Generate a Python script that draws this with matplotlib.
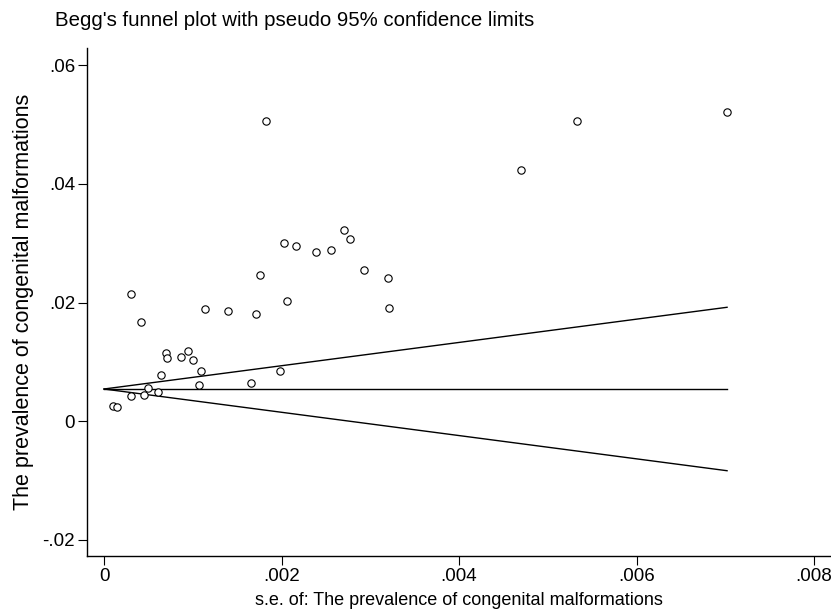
import matplotlib
matplotlib.use("Agg")
import matplotlib.pyplot as plt

# standard errors (x) and prevalence (y)
se = [0.000101, 0.000146, 0.000301, 0.000304, 0.000413, 0.000447, 0.000492,
      0.000608, 0.000642, 0.000699, 0.000710, 0.000864, 0.000943, 0.000999,
      0.001067, 0.001093, 0.001142, 0.001401, 0.001653, 0.001709, 0.001754,
      0.001829, 0.001983, 0.002028, 0.002058, 0.002163, 0.002392, 0.002558,
      0.002708, 0.002768, 0.002933, 0.003196, 0.003211, 0.004703, 0.005326,
      0.007016]
prev = [0.00264, 0.00236, 0.02145, 0.00427, 0.01680, 0.00450, 0.00562,
        0.00500, 0.00787, 0.01146, 0.01073, 0.01084, 0.01191, 0.01034,
        0.00610, 0.00848, 0.01892, 0.01853, 0.00640, 0.01803, 0.02465,
        0.05067, 0.00842, 0.03004, 0.02034, 0.02954, 0.02848, 0.02881,
        0.03230, 0.03067, 0.02544, 0.02421, 0.01909, 0.04241, 0.05055,
        0.05218]

# pooled estimate and pseudo 95% limits at both ends of the funnel
funnel_x = [0.0, 0.00702]
center_y = [0.00544, 0.00544]
upper_y = [0.00544, 0.01921]
lower_y = [0.00544, -0.00833]

xticks = [0, 0.002, 0.004, 0.006, 0.008]
xtick_labels = ["0", ".002", ".004", ".006", ".008"]
yticks = [-0.02, 0, 0.02, 0.04, 0.06]
ytick_labels = ["-.02", "0", ".02", ".04", ".06"]

plt.rcParams["font.family"] = ["Liberation Sans", "DejaVu Sans"]

W, H = 831, 612
fig = plt.figure(figsize=(W / 100, H / 100), dpi=100)
ax = fig.add_axes([87 / W, 1 - 556 / H, (830 - 87) / W, (556 - 48) / H])

ax.plot(funnel_x, upper_y, color="black", lw=1.0)
ax.plot(funnel_x, lower_y, color="black", lw=1.0)
ax.plot(funnel_x, center_y, color="black", lw=1.0)
ax.scatter(se, prev, s=28, facecolors="white", edgecolors="black",
           linewidths=0.8, zorder=3)

ax.set_xlim(-0.000192, 0.00818)
ax.set_ylim(-0.0227, 0.0629)
ax.set_xticks(xticks)
ax.set_xticklabels(xtick_labels)
ax.set_yticks(yticks)
ax.set_yticklabels(ytick_labels)
ax.tick_params(direction="out", length=6.5, width=0.8, labelsize=13.5, pad=2)

for side in ["top", "right"]:
    ax.spines[side].set_visible(False)
for side in ["left", "bottom"]:
    ax.spines[side].set_linewidth(1.0)

ax.set_xlabel("s.e. of: The prevalence of congenital malformations",
              fontsize=13, labelpad=5)
ax.set_ylabel("The prevalence of congenital malformations", fontsize=15.5,
              labelpad=6)
fig.text(55 / W, 1 - 21 / H,
         "Begg's funnel plot with pseudo 95% confidence limits",
         fontsize=14.7, ha="left", va="center")

fig.savefig("out.png", dpi=100, facecolor="white")
